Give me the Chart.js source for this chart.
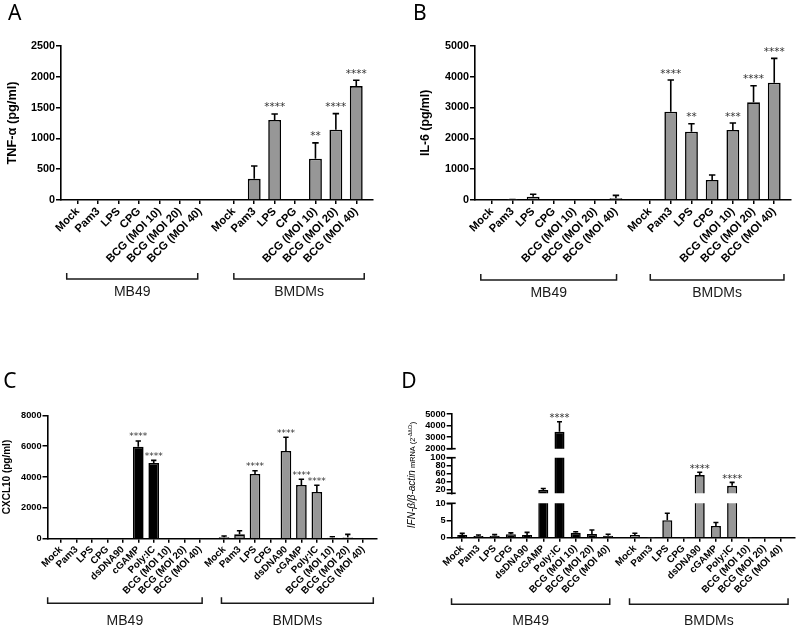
<!DOCTYPE html>
<html>
<head>
<meta charset="utf-8">
<script src="https://cdn.jsdelivr.net/npm/chart.js@4.4.1/dist/chart.umd.min.js"></script>
<style>
  body { margin: 0; background: #fff; }
  #fig { position: relative; width: 796px; height: 627px; overflow: hidden; }
  #fig canvas { position: absolute; }
</style>
</head>
<body>
<div id="fig">
  <canvas id="panelA" width="398" height="310" style="left:0;top:0"></canvas>
  <canvas id="panelB" width="398" height="310" style="left:398px;top:0"></canvas>
  <canvas id="panelC" width="398" height="317" style="left:0;top:310px"></canvas>
  <canvas id="panelDlow" width="398" height="317" style="left:398px;top:310px"></canvas>
  <canvas id="panelDmid" width="398" height="317" style="left:398px;top:310px"></canvas>
  <canvas id="panelDhigh" width="398" height="317" style="left:398px;top:310px"></canvas>
</div>
<script>
// categories
const stimuliTLR = ['Mock', 'Pam3', 'LPS', 'CPG', 'BCG (MOI 10)', 'BCG (MOI 20)', 'BCG (MOI 40)'];
const stimuliIFN = ['Mock', 'Pam3', 'LPS', 'CPG', 'dsDNA90', 'cGAMP', 'Poly:IC', 'BCG (MOI 10)', 'BCG (MOI 20)', 'BCG (MOI 40)'];
const cellGroups = ['MB49', 'BMDMs'];

// A - TNF-a (pg/ml), mean and SD
const tnfMB49 = [0, 0, 0, 0, 0, 0, 0];
const tnfMB49Sd = [0, 0, 0, 0, 0, 0, 0];
const tnfMB49Sig = ['', '', '', '', '', '', ''];
const tnfBMDM = [0, 344, 1299, 0, 671, 1141, 1850];
const tnfBMDMSd = [0, 207, 98, 0, 257, 262, 93];
const tnfBMDMSig = ['', '', '****', '', '**', '****', '****'];
const tnfTicks = [0, 500, 1000, 1500, 2000, 2500];

// B - IL-6 (pg/ml)
const il6MB49 = [0, 12, 107, 0, 0, 0, 55];
const il6MB49Sd = [0, 6, 77, 0, 0, 0, 95];
const il6MB49Sig = ['', '', '', '', '', '', ''];
const il6BMDM = [0, 2861, 2213, 648, 2268, 3165, 3801];
const il6BMDMSd = [0, 1027, 259, 162, 227, 539, 789];
const il6BMDMSig = ['', '****', '**', '', '***', '****', '****'];
const il6Ticks = [0, 1000, 2000, 3000, 4000, 5000];

// C - CXCL10 (pg/ml)
const cxclMB49 = [0, 0, 0, 0, 0, 5966, 4908, 0, 0, 0];
const cxclMB49Sd = [0, 0, 0, 0, 0, 368, 172, 0, 0, 0];
const cxclMB49Sig = ['', '', '', '', '', '****', '****', '', '', ''];
const cxclBMDM = [90, 285, 4195, 0, 5686, 3481, 3027, 60, 70, 0];
const cxclBMDMSd = [85, 234, 213, 0, 888, 370, 435, 70, 210, 0];
const cxclBMDMSig = ['', '', '****', '', '****', '****', '****', '', '', ''];
const cxclTicks = [0, 2000, 4000, 6000, 8000];

// D - IFN-b / b-actin mRNA, broken axis
const ifnMB49 = [0.8, 0.5, 0.6, 1.0, 0.8, 18.5, 3470, 1.45, 1.1, 0.6];
const ifnMB49Sd = [0.45, 0.3, 0.3, 0.4, 0.75, 3.5, 865, 0.3, 1.15, 0.4];
const ifnMB49Sig = ['', '', '', '', '', '', '****', '', '', ''];
const ifnBMDM = [0.8, 0.05, 5.1, 0.05, 56.2, 3.4, 29, 0.05, 0.1, 0];
const ifnBMDMSd = [0.5, 0, 2.0, 0, 7, 1.0, 8.7, 0, 0, 0];
const ifnBMDMSig = ['', '', '', '', '****', '', '****', '', '', ''];
const ifnTicksLow = [0, 5, 10];
const ifnTicksMid = [20, 40, 60, 80, 100];
const ifnTicksHigh = [2000, 3000, 4000, 5000];

Chart.defaults.font.family = '"Liberation Sans", Arial, sans-serif';
Chart.defaults.color = '#000';

const GREY = '#979797';

function positions(nA, nB, gap) {
    const xs = [];
    for (let i = 0; i < nA; i++) xs.push(i);
    for (let j = 0; j < nB; j++) xs.push(nA - 1 + gap + j);
    return xs;
}

function drawIfnTitle(ctx, cx, cy) {
    const parts = [
        { t: 'IFN-β/β-actin', f: 'italic 10px "Liberation Sans"', dy: 0 },
        { t: ' mRNA (2', f: '7.4px "Liberation Sans"', dy: 0 },
        { t: '-ΔΔCt', f: '5px "Liberation Sans"', dy: -3 },
        { t: ')', f: '7.4px "Liberation Sans"', dy: 0 }
    ];
    ctx.save();
    ctx.translate(cx, cy);
    ctx.rotate(-Math.PI / 2);
    let total = 0;
    parts.forEach(pt => { ctx.font = pt.f; pt.w = ctx.measureText(pt.t).width; total += pt.w; });
    let x = -total / 2;
    ctx.fillStyle = '#000';
    ctx.textAlign = 'left';
    ctx.textBaseline = 'alphabetic';
    parts.forEach(pt => { ctx.font = pt.f; ctx.fillText(pt.t, x, 3.5 + pt.dy); x += pt.w; });
    ctx.restore();
}

function makeExtras(p, values, sd, sig) {
    return {
        id: 'extras',
        afterDatasetsDraw(chart) {
            const ctx = chart.ctx, area = chart.chartArea;
            const ys = chart.scales.y;
            const meta = chart.getDatasetMeta(0);
            // error bars (mean + SD)
            ctx.save();
            ctx.beginPath();
            ctx.rect(area.left, area.top - 1, area.right - area.left, area.bottom - area.top);
            ctx.clip();
            ctx.strokeStyle = '#000';
            ctx.lineWidth = 1.6;
            values.forEach((v, i) => {
                if (!sd[i]) return;
                const top = v + sd[i];
                if (top < ys.min) return;
                const bar = meta.data[i];
                const half = bar.width * p.capRatio / 2;
                const y0 = ys.getPixelForValue(v);
                const y1 = ys.getPixelForValue(top);
                ctx.beginPath();
                ctx.moveTo(bar.x, y0);
                ctx.lineTo(bar.x, y1);
                ctx.moveTo(bar.x - half, y1);
                ctx.lineTo(bar.x + half, y1);
                ctx.stroke();
            });
            ctx.restore();
            // significance stars
            ctx.save();
            ctx.font = p.starFont;
            ctx.fillStyle = '#333';
            ctx.textAlign = 'center';
            ctx.textBaseline = 'alphabetic';
            values.forEach((v, i) => {
                if (!sig[i]) return;
                const top = v + (sd[i] || 0);
                if (top < ys.min || top > ys.max) return;
                ctx.fillText(sig[i], meta.data[i].x, ys.getPixelForValue(top) - p.starGap);
            });
            ctx.restore();
        },
        afterDraw(chart) {
            const ctx = chart.ctx, area = chart.chartArea;
            const xs = chart.scales.x;
            ctx.save();
            if (p.breaks) {
                ctx.strokeStyle = '#000';
                ctx.lineWidth = 1.6;
                p.breaks.forEach(side => {
                    const y = side === 'top' ? area.top : area.bottom;
                    ctx.beginPath();
                    ctx.moveTo(area.left - 5, y);
                    ctx.lineTo(area.left + 4, y);
                    ctx.stroke();
                });
            }
            if (p.brackets) {
                ctx.strokeStyle = '#1a1a1a';
                ctx.fillStyle = '#1a1a1a';
                ctx.lineWidth = 1.5;
                ctx.font = p.groupFont;
                ctx.textAlign = 'center';
                ctx.textBaseline = 'middle';
                p.brackets.forEach(b => {
                    const x0 = xs.getPixelForValue(b.from), x1 = xs.getPixelForValue(b.to);
                    ctx.beginPath();
                    ctx.moveTo(x0, p.bracketY - 6);
                    ctx.lineTo(x0, p.bracketY);
                    ctx.lineTo(x1, p.bracketY);
                    ctx.lineTo(x1, p.bracketY - 6);
                    ctx.stroke();
                    ctx.fillText(b.label, (x0 + x1) / 2, p.groupLabelY);
                });
            }
            if (p.letter) {
                ctx.fillStyle = '#000';
                ctx.font = '21px "Noto Sans"';
                ctx.textAlign = 'left';
                ctx.textBaseline = 'alphabetic';
                ctx.fillText(p.letter, p.letterX, p.letterY);
            }
            if (p.ifnTitle) drawIfnTitle(ctx, p.ifnTitle[0], p.ifnTitle[1]);
            ctx.restore();
        }
    };
}

function makePanel(id, p) {
    const xsPos = positions(p.mb49.length, p.bmdm.length, p.gap);
    const values = p.mb49.concat(p.bmdm);
    const sd = p.mb49Sd.concat(p.bmdmSd);
    const sig = p.mb49Sig.concat(p.bmdmSig);
    const labels = p.labels.concat(p.labels);
    const colors = p.mb49.map(() => p.mb49Color).concat(p.bmdm.map(() => GREY));
    const nA = p.mb49.length;
    const last = xsPos[xsPos.length - 1];
    if (p.bracketOffsets) {
        const o = p.bracketOffsets;
        p.brackets = [
            { label: cellGroups[0], from: xsPos[0] + o[0], to: xsPos[nA - 1] + o[1] },
            { label: cellGroups[1], from: xsPos[nA] + o[2], to: last + o[3] }
        ];
    }
    const canvas = document.getElementById(id);
    const W = canvas.width, H = canvas.height;
    new Chart(canvas, {
        type: 'bar',
        data: {
            datasets: [{
                data: xsPos.map((x, i) => ({ x: x, y: values[i] })),
                backgroundColor: colors,
                borderColor: '#000',
                borderWidth: 1.6,
                barPercentage: p.barPct,
                categoryPercentage: 1,
                clip: p.clip ? 0 : false
            }]
        },
        options: {
            responsive: false,
            animation: false,
            devicePixelRatio: 1,
            layout: {
                padding: { left: 0, top: p.area.top, right: W - p.area.right, bottom: p.showX ? 0 : H - p.area.bottom }
            },
            plugins: { legend: { display: false }, tooltip: { enabled: false } },
            scales: {
                x: {
                    type: 'linear',
                    display: p.showX,
                    min: -p.padL,
                    max: last + p.padR,
                    offset: false,
                    bounds: 'data',
                    afterBuildTicks: s => { s.ticks = xsPos.map(v => ({ value: v })); },
                    afterFit: s => { if (p.showX) s.height = H - p.area.bottom; },
                    grid: { display: true, drawOnChartArea: false, offset: false, tickLength: 4, color: '#000', lineWidth: 1.5 },
                    border: { display: true, color: '#000', width: 1.6 },
                    ticks: {
                        autoSkip: false, maxRotation: 45, minRotation: 45, padding: 1, color: '#000',
                        font: { size: p.xFont, weight: 'bold' },
                        callback: (v, i) => labels[i]
                    }
                },
                y: {
                    type: 'linear',
                    min: p.yMin,
                    max: p.yMax,
                    afterBuildTicks: s => { s.ticks = p.yTicks.map(v => ({ value: v })); },
                    afterFit: s => { s.width = p.area.left; },
                    grid: { display: true, drawOnChartArea: false, tickLength: 5, color: '#000', lineWidth: 1.5 },
                    border: { display: true, color: '#000', width: 1.6 },
                    ticks: { autoSkip: false, padding: 1, color: '#000', font: { size: p.yFont, weight: 'bold' }, callback: v => String(v) },
                    title: p.title ? {
                        display: true, text: p.title, color: '#000',
                        font: { size: p.titleFont, weight: 'bold' },
                        padding: { top: p.titlePad, bottom: 0 }
                    } : { display: false }
                }
            }
        },
        plugins: [makeExtras(p, values, sd, sig)]
    });
}

makePanel('panelA', {
    labels: stimuliTLR, mb49: tnfMB49, mb49Sd: tnfMB49Sd, mb49Sig: tnfMB49Sig,
    bmdm: tnfBMDM, bmdmSd: tnfBMDMSd, bmdmSig: tnfBMDMSig, mb49Color: GREY,
    yMin: 0, yMax: 2500, yTicks: tnfTicks, gap: 1.65, padL: 0.82, padR: 0.82,
    area: { left: 61, right: 373, top: 46, bottom: 200 }, showX: true, barPct: 0.63,
    xFont: 11.2, yFont: 10.8, title: 'TNF-α (pg/ml)', titleFont: 12.8, titlePad: 5,
    starFont: '10.5px "DejaVu Sans"', starGap: 3.5, capRatio: 0.5,
    bracketOffsets: [-0.54, -0.12, 0, 0.39], bracketY: 279, groupLabelY: 292, groupFont: '14px "Liberation Sans"',
    letter: 'A', letterX: 8, letterY: 20
});

makePanel('panelB', {
    labels: stimuliTLR, mb49: il6MB49, mb49Sd: il6MB49Sd, mb49Sig: il6MB49Sig,
    bmdm: il6BMDM, bmdmSd: il6BMDMSd, bmdmSig: il6BMDMSig, mb49Color: GREY,
    yMin: 0, yMax: 5000, yTicks: il6Ticks, gap: 1.65, padL: 0.81, padR: 0.81,
    area: { left: 77, right: 393, top: 45.7, bottom: 200 }, showX: true, barPct: 0.62,
    xFont: 11.2, yFont: 10.8, title: 'IL-6 (pg/ml)', titleFont: 12.3, titlePad: 20.5,
    starFont: '10.5px "DejaVu Sans"', starGap: 3.5, capRatio: 0.5,
    bracketOffsets: [-0.53, 0.03, 0.01, 0.47], bracketY: 280, groupLabelY: 293.5, groupFont: '14px "Liberation Sans"',
    letter: 'B', letterX: 15, letterY: 20
});

makePanel('panelC', {
    labels: stimuliIFN, mb49: cxclMB49, mb49Sd: cxclMB49Sd, mb49Sig: cxclMB49Sig,
    bmdm: cxclBMDM, bmdmSd: cxclBMDMSd, bmdmSig: cxclBMDMSig, mb49Color: '#000',
    yMin: 0, yMax: 8000, yTicks: cxclTicks, gap: 1.55, padL: 0.87, padR: 0.87,
    area: { left: 47.5, right: 376.7, top: 105.3, bottom: 228.7 }, showX: true, barPct: 0.69,
    xFont: 9.8, yFont: 9.2, title: 'CXCL10 (pg/ml)', titleFont: 10, titlePad: 1.5,
    starFont: '9px "DejaVu Sans"', starGap: 1.5, capRatio: 0.5,
    bracketOffsets: [-0.86, 0.13, -0.17, 0.65], bracketY: 293.3, groupLabelY: 311.5, groupFont: '14px "Liberation Sans"',
    letter: 'C', letterX: 3.3, letterY: 78
});

const ifnShared = {
    labels: stimuliIFN, mb49: ifnMB49, mb49Sd: ifnMB49Sd, mb49Sig: ifnMB49Sig,
    bmdm: ifnBMDM, bmdmSd: ifnBMDMSd, bmdmSig: ifnBMDMSig, mb49Color: '#000',
    gap: 1.65, padL: 0.65, padR: 0.86, barPct: 0.62, clip: true,
    xFont: 9.8, yFont: 9.2, starFont: '10px "DejaVu Sans"', starGap: 0.5, capRatio: 0.5
};

makePanel('panelDlow', Object.assign({}, ifnShared, {
    yMin: 0, yMax: 10, yTicks: ifnTicksLow, showX: true, breaks: ['top'],
    area: { left: 53.7, right: 396.7, top: 193.3, bottom: 227.7 },
    bracketOffsets: [-0.66, 0.1, -0.33, 0.45], bracketY: 294.3, groupLabelY: 311.5, groupFont: '14px "Liberation Sans"',
    letter: 'D', letterX: 3.3, letterY: 78, ifnTitle: [13, 165]
}));

makePanel('panelDmid', Object.assign({}, ifnShared, {
    yMin: 10, yMax: 100, yTicks: ifnTicksMid, showX: false, breaks: ['top', 'bottom'],
    area: { left: 53.7, right: 396.7, top: 147.7, bottom: 183.3 }
}));

makePanel('panelDhigh', Object.assign({}, ifnShared, {
    yMin: 2000, yMax: 5000, yTicks: ifnTicksHigh, showX: false, breaks: ['bottom'],
    area: { left: 53.7, right: 396.7, top: 104, bottom: 138.7 }
}));
</script>
</body>
</html>
